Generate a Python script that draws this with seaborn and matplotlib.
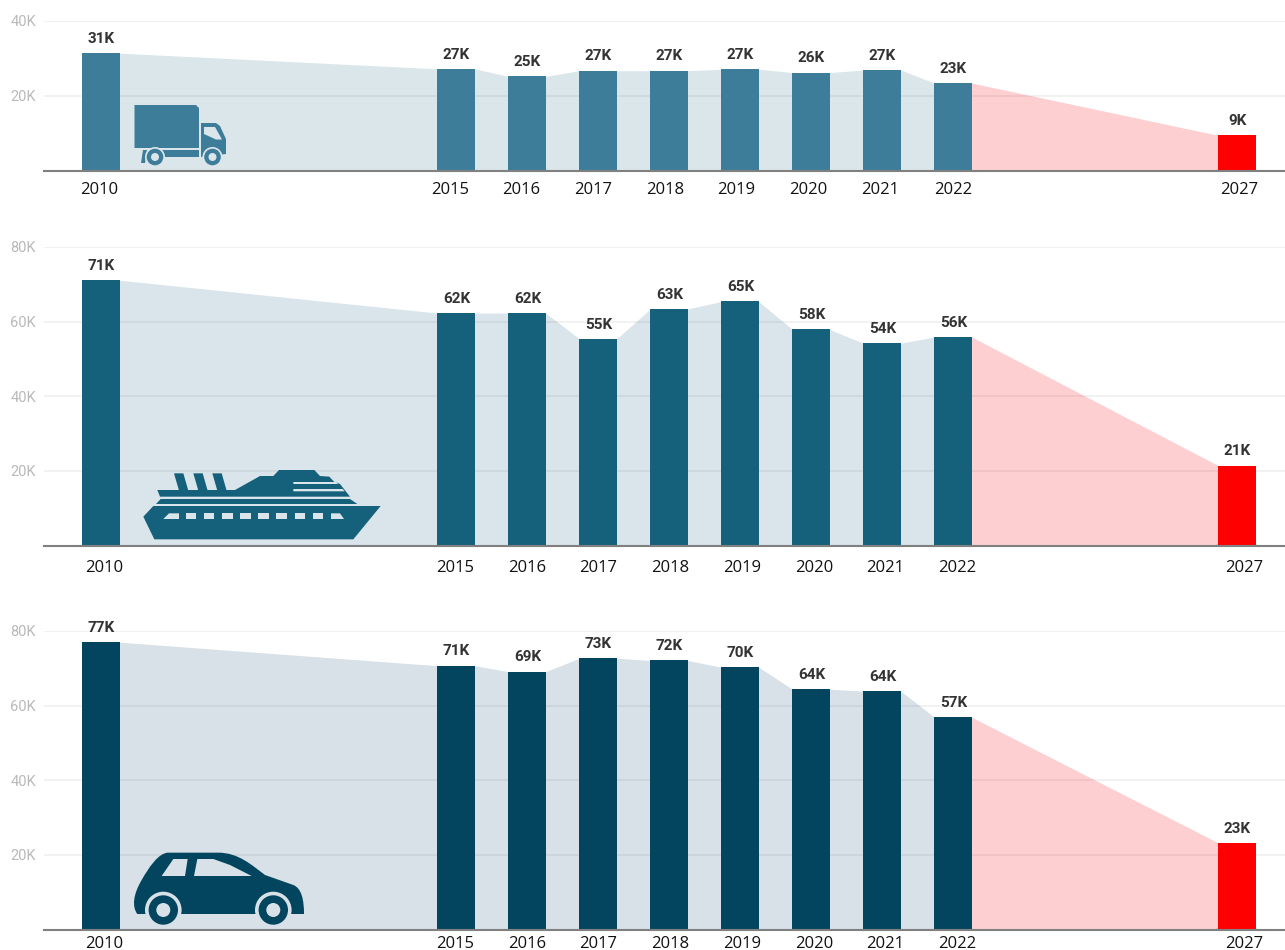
#!/usr/bin/env python3

import matplotlib

matplotlib.use("Agg")

import matplotlib.pyplot as plt
import pandas
import seaborn as sns
from matplotlib.patches import Circle, PathPatch, Polygon
from matplotlib.path import Path

years = ["2010", "2015", "2016", "2017", "2018", "2019", "2020", "2021", "2022", "2027"]

truck_values = [31.4, 27.2, 25.2, 26.7, 26.7, 27.1, 26.2, 26.9, 23.4, 9.4]
ship_values = [71.1, 62.3, 62.3, 55.4, 63.4, 65.4, 57.9, 54.2, 55.9, 21.4]
car_values = [77.0, 70.7, 69.1, 72.7, 72.1, 70.3, 64.4, 63.9, 56.9, 23.2]

truck_ticks = [20, 40]
ship_ticks = [20, 40, 60, 80]
car_ticks = [20, 40, 60, 80]

# Slots on the x axis, the blanks are the gaps between the shown years
slots = ["2010", "_a", "_b", "_c", "_d", "2015", "2016", "2017", "2018", "2019",
         "2020", "2021", "2022", "_e", "_f", "_g", "2027"]

WIDTH = 1285
HEIGHT = 950
SLOT_PX = 71
BAR_WIDTH = 0.525
RED = "#ff0000"
PINK = "#fdcfd0"

sns.set_theme(style="white")
plt.rcParams["font.family"] = ["Roboto", "DejaVu Sans"]


def draw_panel(fig, values, ticks, ymax, top, bottom, color, area, label_shift, label_pad):
    """
    One panel: area behind, gridlines, bars, value labels and year labels
    """
    ax = fig.add_axes([44 / WIDTH, 1 - bottom / HEIGHT, (WIDTH - 44) / WIDTH, (bottom - top) / HEIGHT])
    df = pandas.DataFrame({"year": years, "value": values})
    palette = {year: color for year in years}
    palette["2027"] = RED
    sns.barplot(
        data=df, x="year", y="value", hue="year", order=slots, palette=palette,
        width=BAR_WIDTH, saturation=1, legend=False, ax=ax, zorder=3, linewidth=0,
    )

    # The area joins the top corners of neighbouring bars
    xs = []
    ys = []
    for year, value in zip(years, values):
        xs += [slots.index(year) - BAR_WIDTH / 2, slots.index(year) + BAR_WIDTH / 2]
        ys += [value, value]
    ax.fill_between(xs[:-2], ys[:-2], color=area, lw=0, zorder=1)
    ax.fill_between(xs[-3:-1], ys[-3:-1], color=PINK, lw=0, zorder=1)

    for tick in ticks:
        ax.axhline(tick, color="#000000", alpha=0.06, lw=1.2, zorder=2)

    for year, value in zip(years, values):
        ax.annotate(
            f"{round(value)}K", (slots.index(year), value), xytext=(0.3, 5.2), textcoords="offset points",
            ha="center", va="bottom", fontsize=11, fontweight="bold", color="#333333",
        )

    ax.set_xlim((44 - 101) / SLOT_PX, (WIDTH - 101) / SLOT_PX)
    ax.set_ylim(0, ymax)
    ax.set_xticks([slots.index(y) + dx / SLOT_PX for y, dx in zip(years, label_shift)], labels=years)
    ax.set_yticks(ticks, labels=[f"{t}K" for t in ticks])
    ax.tick_params(axis="x", length=0, pad=label_pad, labelsize=12, labelcolor="#111111", labelfontfamily="Open Sans")
    ax.tick_params(axis="y", length=0, pad=5.8, labelsize=10.5, labelcolor="#b9b9b9")
    ax.set_xlabel("")
    ax.set_ylabel("")
    sns.despine(ax=ax, left=True, top=True, right=True)
    ax.spines["bottom"].set_color("#808080")
    ax.spines["bottom"].set_linewidth(1.5)
    ax.spines["bottom"].set_zorder(4)
    ax.patch.set_alpha(0)
    return ax


def draw_truck(ax, fg, bg):
    ax.add_patch(Polygon([(134.5, 105), (196, 105), (199, 108), (199, 148), (134.5, 148)], fc=fg, lw=0))
    ax.add_patch(Polygon([(201, 123), (216, 123), (220, 126), (226, 139), (226, 154), (201, 157)], fc=fg, lw=0))
    ax.add_patch(Polygon([(204, 127), (215, 127), (222, 139.5), (216, 139.5), (204, 134)], fc=bg, lw=0))
    ax.add_patch(Polygon([(160, 150), (199, 150), (199, 157), (160, 157)], fc=fg, lw=0))
    ax.add_patch(Polygon([(143, 150), (147, 150), (145, 163), (141, 163)], fc=fg, lw=0))
    for cx in [155, 212.5]:
        ax.add_patch(Circle((cx, 157), 10, fc=bg, lw=0))
        ax.add_patch(Circle((cx, 157), 8.3, fc=fg, lw=0))
        ax.add_patch(Circle((cx, 157), 4, fc=bg, lw=0))


def draw_ship(ax, fg, bg):
    def px(points):
        return [(120 + x / 3, 450 + y / 3) for x, y in points]

    ax.add_patch(Polygon(px([(70, 200), (100, 168), (782, 168), (700, 268), (103, 268)]), fc=fg, lw=0))
    ax.add_patch(Polygon(px([(108, 162), (122, 147), (690, 147), (712, 162)]), fc=fg, lw=0))
    ax.add_patch(Polygon(px([(112, 120), (345, 120), (420, 78), (460, 78), (477, 60), (583, 60), (600, 78),
                             (628, 80), (642, 95), (660, 102), (690, 140), (120, 140)]), fc=fg, lw=0))
    for x0 in [162, 220, 277]:
        ax.add_patch(Polygon(px([(x0, 70), (x0 + 28, 70), (x0 + 43, 122), (x0 + 15, 122)]), fc=fg, lw=0))
    ax.add_patch(Polygon(px([(520, 96), (648, 96), (654, 102), (520, 102)]), fc=bg, lw=0))
    ax.add_patch(Polygon(px([(520, 117), (668, 117), (674, 124), (520, 124)]), fc=bg, lw=0))
    ax.add_patch(Polygon(px([(130, 207), (147, 190), (177, 190), (177, 207)]), fc=bg, lw=0))
    for x0 in [197, 251, 306, 360, 415, 469, 524, 578]:
        ax.add_patch(Polygon(px([(x0, 190), (x0 + 32, 190), (x0 + 32, 207), (x0, 207)]), fc=bg, lw=0))
    ax.add_patch(Polygon(px([(633, 190), (660, 190), (672, 207), (633, 207)]), fc=bg, lw=0))


def draw_car(ax, fg, bg):
    def px(points):
        return [(x / 3, 820 + y / 3) for x, y in points]

    codes = [Path.MOVETO, Path.CURVE4, Path.CURVE4, Path.CURVE4, Path.CURVE4, Path.CURVE4, Path.CURVE4,
             Path.LINETO, Path.CURVE4, Path.CURVE4, Path.CURVE4, Path.LINETO, Path.CURVE4, Path.CURVE4, Path.CURVE4,
             Path.CLOSEPOLY]
    verts = [(412, 282), (395, 260), (400, 222), (425, 180),
             (445, 145), (475, 98), (505, 98),
             (655, 98), (715, 98), (755, 135), (795, 165),
             (880, 195), (905, 205), (912, 240), (912, 282),
             (412, 282)]
    ax.add_patch(PathPatch(Path(px(verts), codes), fc=fg, lw=0))
    ax.add_patch(Polygon(px([(485, 168), (520, 117), (563, 117), (555, 168)]), fc=bg, lw=0))
    ax.add_patch(Polygon(px([(582, 168), (592, 117), (640, 117), (690, 135), (755, 168)]), fc=bg, lw=0))
    for cx in [163.3, 273.3]:
        ax.add_patch(Circle((cx, 910), 18.3, fc=bg, lw=0))
        ax.add_patch(Circle((cx, 910), 14.7, fc=fg, lw=0))
        ax.add_patch(Circle((cx, 910), 7, fc=bg, lw=0))


def main():
    fig = plt.figure(figsize=(WIDTH / 100, HEIGHT / 100), dpi=100, facecolor="white")

    truck_shift = [-2, -6, -5.5, -4.5, -4, -3.5, -3, -2, 0.5, 2]
    ship_shift = [3, -1, 0, 0.5, 1.5, 2.5, 3.5, 3.5, 4.5, 7]

    draw_panel(fig, truck_values, truck_ticks, 40, 21, 170.5, "#3d7d9a", "#dbe6eb", truck_shift, 8)
    draw_panel(fig, ship_values, ship_ticks, 80, 247, 545.5, "#15607a", "#d9e5ea", ship_shift, 10.5)
    draw_panel(fig, car_values, car_ticks, 80, 631, 929.5, "#03455e", "#d8e1e7", ship_shift, 5)

    # Icons sit on a full figure layer in image pixels
    overlay = fig.add_axes([0, 0, 1, 1], zorder=10)
    overlay.set_xlim(0, WIDTH)
    overlay.set_ylim(HEIGHT, 0)
    overlay.axis("off")
    draw_truck(overlay, "#3d7d9a", "#dbe6eb")
    draw_ship(overlay, "#15607a", "#d9e5ea")
    draw_car(overlay, "#03455e", "#d8e1e7")

    fig.savefig("out.png", dpi=100)


if __name__ == "__main__":
    main()
